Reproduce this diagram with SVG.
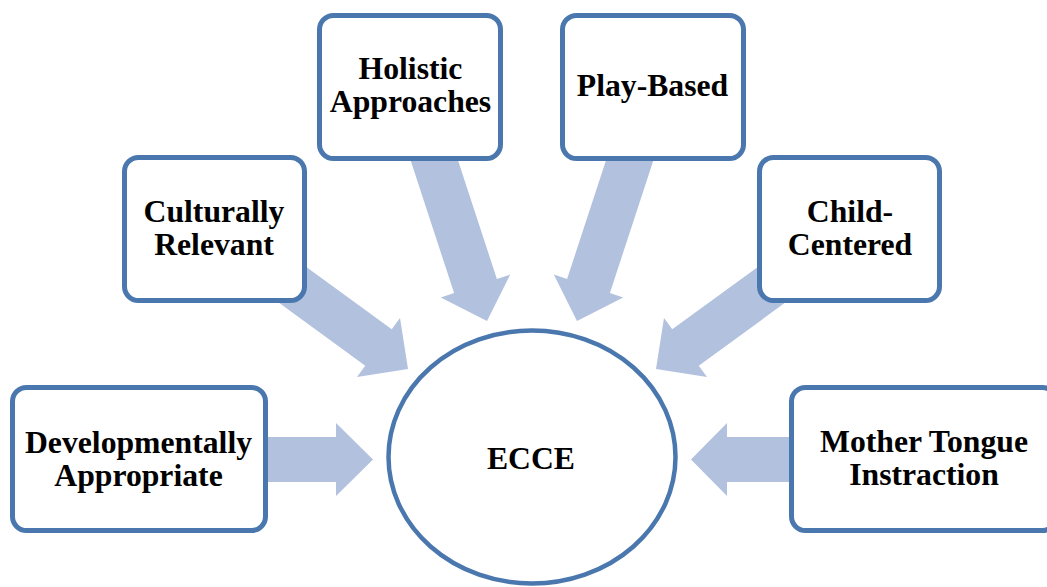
<svg xmlns="http://www.w3.org/2000/svg" width="1047" height="587" viewBox="0 0 1047 587">
<style>
.arrow{fill:#b1c1de;stroke:none}
.box{fill:#ffffff;stroke:#4a77ad;stroke-width:5}
.hub{fill:#ffffff;stroke:#4a77ad;stroke-width:4.5}
.lbl{font-family:"Liberation Serif","Times New Roman",serif;font-weight:bold;font-size:31.7px;fill:#000000;text-anchor:middle}
</style>
<rect width="1047" height="587" fill="#ffffff"/>
<g id="connectors">
<polygon class="arrow" points="250,437 336,437 336,423 373,459.5 336,496 336,482 250,482"/>
<polygon class="arrow" points="810,437 727,437 727,423 691,459.5 727,496 727,482 810,482"/>
<polygon class="arrow" points="270.5,240.9 391.75,329.3 400,318 408,369 357,377 365.25,365.7 244,277.3"/>
<polygon class="arrow" points="793.5,240.9 672.25,329.3 664,318 656,369 707,377 698.75,365.7 820,277.3"/>
<polygon class="arrow" points="407.3,150.3 454.1,293 440.8,297.4 487,321 510.2,274.6 496.9,279 450.1,136.3"/>
<polygon class="arrow" points="656.7,150.3 609.9,293 623.2,297.4 577,321 553.8,274.6 567.1,279 613.9,136.3"/>
</g>
<g id="node-ecce">
<ellipse class="hub" cx="532" cy="457" rx="143.5" ry="126.5"/>
<text class="lbl" x="531" y="469">ECCE</text>
</g>
<g id="node-developmentally">
<rect class="box" x="12.5" y="387.5" width="253" height="143" rx="14"/>
<text class="lbl" x="138.5" y="452.5">Developmentally</text>
<text class="lbl" x="138.5" y="486">Appropriate</text>
</g>
<g id="node-culturally">
<rect class="box" x="124.5" y="157.5" width="180" height="143" rx="14"/>
<text class="lbl" x="214" y="221.5">Culturally</text>
<text class="lbl" x="214" y="254.5">Relevant</text>
</g>
<g id="node-holistic">
<rect class="box" x="319.5" y="15.5" width="181" height="143" rx="14"/>
<text class="lbl" x="410.5" y="79">Holistic</text>
<text class="lbl" x="410.5" y="112">Approaches</text>
</g>
<g id="node-playbased">
<rect class="box" x="562.5" y="15.5" width="181" height="143" rx="14"/>
<text class="lbl" x="652.5" y="96">Play-Based</text>
</g>
<g id="node-childcentered">
<rect class="box" x="759.5" y="157.5" width="180" height="143" rx="14"/>
<text class="lbl" x="850" y="221.5">Child-</text>
<text class="lbl" x="850" y="254.5">Centered</text>
</g>
<g id="node-mothertongue">
<rect class="box" x="791.5" y="387.5" width="265" height="143" rx="14"/>
<text class="lbl" x="924" y="452">Mother Tongue</text>
<text class="lbl" x="924" y="485">Instraction</text>
</g>
</svg>
